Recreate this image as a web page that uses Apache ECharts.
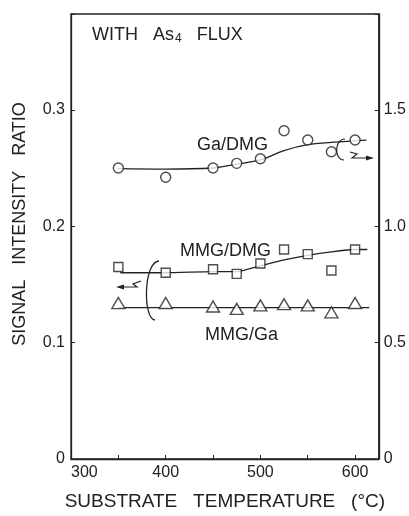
<!DOCTYPE html>
<html>
<head>
<meta charset="utf-8">
<title>Signal intensity ratio vs substrate temperature</title>
<script src="https://cdn.jsdelivr.net/npm/echarts@6.0.0/dist/echarts.min.js"></script>
<style>
    html, body { margin: 0; padding: 0; background: #fff; }
    #chart { width: 409px; height: 516px; }
</style>
</head>
<body>
<div id="chart"></div>
<script>
    // measured points
    var temps = [350, 400, 450, 475, 500, 525, 550, 575, 600];
    var gaDmg = [1.25, 1.21, 1.25, 1.27, 1.29, 1.41, 1.37, 1.32, 1.37];   // right axis
    var mmgDmg = [0.165, 0.160, 0.163, 0.159, 0.168, 0.180, 0.176, 0.162, 0.180];
    var mmgGa = [0.134, 0.134, 0.131, 0.129, 0.132, 0.133, 0.132, 0.126, 0.134];

    // hand drawn guide curves
    var gaFitT = [350, 400, 450, 475, 500, 525, 550, 575, 612];
    var gaFit = [1.247, 1.245, 1.25, 1.267, 1.285, 1.325, 1.35, 1.36, 1.37];
    var mmgDmgFitT = [352, 400, 450, 475, 500, 525, 550, 575, 600, 613];
    var mmgDmgFit = [0.160, 0.160, 0.161, 0.161, 0.166, 0.171, 0.175, 0.178, 0.180, 0.180];
    var mmgGaFitT = [350, 615];
    var mmgGaFit = [0.130, 0.130];

    // tick labels
    var xTicks = [300, 400, 500, 600];
    var leftTicks = ['0', '0.1', '0.2', '0.3'];
    var rightTicks = ['0', '0.5', '1.0', '1.5'];

    var FONT = 'Liberation Sans';
    var INK = '#222';

    function pairs(xs, ys) {
        return xs.map(function (x, i) { return [x, ys[i]]; });
    }

    var chart = echarts.init(document.getElementById('chart'));

    var markStyle = { color: '#fff', borderColor: INK, borderWidth: 1.4 };
    var lineStyle = { color: INK, width: 1.3 };

    var option = {
        animation: false,
        grid: {
            left: 71, right: 29, top: 14, bottom: 52,
            show: true, borderColor: INK, borderWidth: 1.3, backgroundColor: 'transparent'
        },
        xAxis: {
            type: 'value',
            min: 300, max: 625, interval: 50,
            splitLine: { show: false },
            axisLine: { lineStyle: { color: INK, width: 1.3 } },
            axisTick: { inside: true, length: 4, lineStyle: { color: INK } },
            axisLabel: {
                color: INK, fontSize: 16, fontFamily: FONT, margin: 6,
                alignMinLabel: 'left',
                formatter: function (v) { return xTicks.indexOf(v) >= 0 ? String(v) : ''; }
            },
            name: 'SUBSTRATE   TEMPERATURE   (°C)',
            nameLocation: 'middle',
            nameGap: 33,
            nameTextStyle: { color: INK, fontSize: 19, fontFamily: FONT }
        },
        yAxis: [{
            type: 'value',
            min: 0, max: 0.3823, interval: 0.1,
            splitLine: { show: false },
            axisLine: { show: true, lineStyle: { color: INK, width: 1.3 } },
            axisTick: { inside: true, length: 4, lineStyle: { color: INK } },
            axisLabel: {
                color: INK, fontSize: 16, fontFamily: FONT, margin: 6,
                formatter: function (v) { return leftTicks[Math.round(v / 0.1)] || ''; }
            }
        }, {
            type: 'value',
            position: 'right',
            min: 0, max: 1.9115, interval: 0.5,
            splitLine: { show: false },
            axisLine: { show: true, lineStyle: { color: INK, width: 1.3 } },
            axisTick: { inside: true, length: 4, lineStyle: { color: INK } },
            axisLabel: {
                color: INK, fontSize: 16, fontFamily: FONT, margin: 5,
                formatter: function (v) { return rightTicks[Math.round(v / 0.5)] || ''; }
            }
        }],
        series: [{
            type: 'line', yAxisIndex: 1, smooth: 0.4, symbol: 'none', z: 2,
            data: pairs(gaFitT, gaFit), lineStyle: lineStyle
        }, {
            type: 'line', yAxisIndex: 0, smooth: 0.2, symbol: 'none', z: 2,
            data: pairs(mmgDmgFitT, mmgDmgFit), lineStyle: lineStyle
        }, {
            type: 'line', yAxisIndex: 0, symbol: 'none', z: 2,
            data: pairs(mmgGaFitT, mmgGaFit), lineStyle: lineStyle
        }, {
            type: 'scatter', yAxisIndex: 1, symbol: 'circle', symbolSize: 10, z: 5,
            data: pairs(temps, gaDmg), itemStyle: markStyle
        }, {
            type: 'scatter', yAxisIndex: 0, symbol: 'rect', symbolSize: 9, z: 5,
            data: pairs(temps, mmgDmg), itemStyle: markStyle
        }, {
            type: 'scatter', yAxisIndex: 0, symbol: 'triangle', symbolSize: [13, 11], z: 5,
            data: pairs(temps, mmgGa), itemStyle: markStyle
        }],
        graphic: [
            {
                type: 'text', x: 20, y: 224, rotation: Math.PI / 2,
                style: {
                    text: 'SIGNAL   INTENSITY   RATIO', fill: INK,
                    fontSize: 18, fontFamily: FONT,
                    textAlign: 'center', textVerticalAlign: 'middle'
                }
            },
            {
                type: 'text', x: 92, y: 35,
                style: {
                    text: '{a|WITH   As}{s|4}{a|   FLUX}',
                    fill: INK, fontFamily: FONT, fontSize: 18,
                    textVerticalAlign: 'middle',
                    rich: {
                        a: { fontSize: 18, fontFamily: FONT, fill: INK },
                        s: { fontSize: 12, fontFamily: FONT, fill: INK, padding: [7, 0, 0, 1] }
                    }
                }
            },
            {
                type: 'text', x: 197, y: 145,
                style: { text: 'Ga/DMG', fill: INK, fontSize: 18, fontFamily: FONT, textVerticalAlign: 'middle' }
            },
            {
                type: 'text', x: 180, y: 251,
                style: { text: 'MMG/DMG', fill: INK, fontSize: 18, fontFamily: FONT, textVerticalAlign: 'middle' }
            },
            {
                type: 'text', x: 205, y: 335,
                style: { text: 'MMG/Ga', fill: INK, fontSize: 18, fontFamily: FONT, textVerticalAlign: 'middle' }
            },
            // bracket + arrow to the right axis
            {
                type: 'bezierCurve', z: 10,
                shape: { x1: 345, y1: 139, cpx1: 334, cpy1: 139, cpx2: 334, cpy2: 160, x2: 344, y2: 160 },
                style: { fill: null, stroke: INK, lineWidth: 1.2 }
            },
            {
                type: 'polyline', z: 10,
                shape: { points: [[350, 152], [357, 154], [352, 158], [369, 158]] },
                style: { fill: null, stroke: INK, lineWidth: 1.2 }
            },
            {
                type: 'polygon', z: 10,
                shape: { points: [[374, 158], [366, 155.5], [366, 160.5]] },
                style: { fill: INK }
            },
            // bracket + arrow to the left axis
            {
                type: 'bezierCurve', z: 10,
                shape: { x1: 159, y1: 261, cpx1: 143, cpy1: 262, cpx2: 143, cpy2: 320, x2: 155, y2: 320 },
                style: { fill: null, stroke: INK, lineWidth: 1.3 }
            },
            {
                type: 'polyline', z: 10,
                shape: { points: [[141, 281], [133, 284], [137, 287], [121, 287]] },
                style: { fill: null, stroke: INK, lineWidth: 1.2 }
            },
            {
                type: 'polygon', z: 10,
                shape: { points: [[116, 287], [124, 284.5], [124, 289.5]] },
                style: { fill: INK }
            }
        ]
    };

    chart.setOption(option);
</script>
</body>
</html>
